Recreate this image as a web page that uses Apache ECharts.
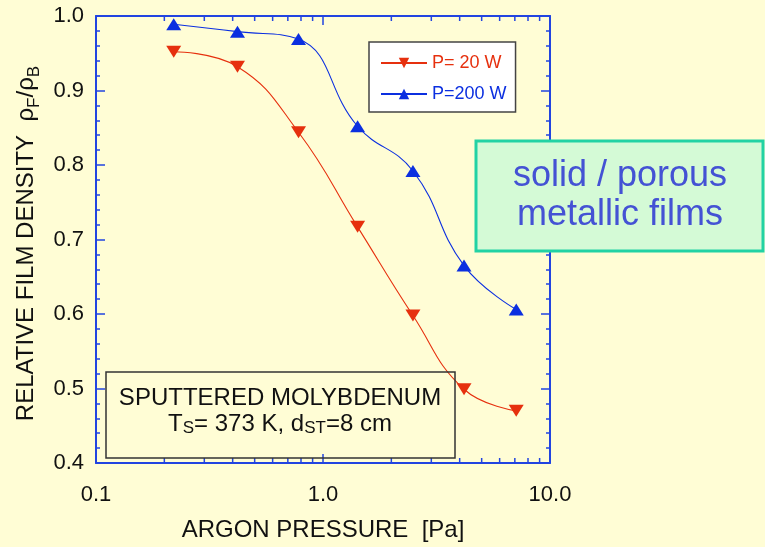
<!DOCTYPE html>
<html>
<head>
<meta charset="utf-8">
<script src="https://cdn.jsdelivr.net/npm/echarts@6/dist/echarts.min.js"></script>
<style>
  html, body { margin: 0; padding: 0; background: #FFFDD5; }
  #chart { width: 765px; height: 547px; }
</style>
</head>
<body>
<div id="chart"></div>
<script>
// Argon pressure [Pa] at which the films were sputtered
const pressure = [0.22, 0.42, 0.78, 1.42, 2.49, 4.18, 7.1];
// Relative film density rho_F / rho_B
const density20W = [0.952, 0.932, 0.844, 0.717, 0.598, 0.499, 0.470];
const density200W = [0.989, 0.979, 0.969, 0.852, 0.792, 0.665, 0.606];
const seriesNames = ['P= 20 W', 'P=200 W'];
// Minor ticks of the logarithmic pressure axis
const logMinorTicks = [0.2, 0.3, 0.4, 0.5, 0.6, 0.7, 0.8, 0.9, 2, 3, 4, 5, 6, 7, 8, 9];
const xRange = [0.1, 10];
const yRange = [0.4, 1.0];
const yStep = 0.1;

const RED = '#E6300E';
const BLUE = '#0B2FE0';
const AXIS = '#2244E0';
const FONT = '"Liberation Sans", Arial, sans-serif';

const pairs = (xs, ys) => xs.map((x, i) => [x, ys[i]]);

const chart = echarts.init(document.getElementById('chart'));

const axisLine = { lineStyle: { color: AXIS, width: 2 } };
const axisTick = { inside: true, length: 9, lineStyle: { color: AXIS, width: 1.5 } };
const minorTick = { show: true, splitNumber: 5, length: 4, lineStyle: { color: AXIS, width: 1.5 } };

chart.setOption({
  backgroundColor: '#FFFDD5',
  animation: false,
  textStyle: { fontFamily: FONT },
  grid: { left: 96, right: 215, top: 16, bottom: 81 },
  legend: {
    orient: 'vertical',
    left: 369,
    top: 42,
    backgroundColor: '#ffffff',
    borderColor: '#444444',
    borderWidth: 1.5,
    borderRadius: 0,
    padding: [12, 9, 9, 11],
    itemGap: 13,
    itemWidth: 46,
    itemHeight: 13,
    textStyle: { fontFamily: FONT, fontSize: 18 },
    data: [
      { name: seriesNames[0], textStyle: { color: RED } },
      { name: seriesNames[1], textStyle: { color: BLUE } }
    ]
  },
  xAxis: [
    {
      type: 'log', logBase: 10, min: xRange[0], max: xRange[1],
      position: 'bottom',
      axisLine, axisTick,
      splitLine: { show: false },
      axisLabel: {
        color: '#111', fontSize: 22, margin: 21, fontFamily: FONT,
        formatter: v => Number(v).toFixed(1)
      },
      name: 'ARGON PRESSURE  [Pa]',
      nameLocation: 'middle',
      nameGap: 55,
      nameTextStyle: { color: '#111', fontSize: 24, fontFamily: FONT }
    },
    {
      type: 'log', logBase: 10, min: xRange[0], max: xRange[1],
      position: 'top',
      axisLine, axisTick,
      splitLine: { show: false },
      axisLabel: { show: false }
    }
  ],
  yAxis: [
    {
      type: 'value', min: yRange[0], max: yRange[1], interval: yStep,
      position: 'left',
      axisLine, axisTick, minorTick,
      splitLine: { show: false },
      axisLabel: {
        color: '#111', fontSize: 22, margin: 12, fontFamily: FONT,
        padding: [7, 0, 0, 0],
        formatter: v => Number(v).toFixed(1)
      },
      name: '{n|RELATIVE FILM DENSITY  ρ}{s|F}{n|/ρ}{s|B}',
      nameLocation: 'middle',
      nameRotate: 90,
      nameGap: 47,
      nameTextStyle: {
        padding: [0, 8, 0, 0],
        rich: {
          n: { color: '#111', fontSize: 24, lineHeight: 32, fontFamily: FONT },
          s: { color: '#111', fontSize: 17, lineHeight: 16, verticalAlign: 'bottom', fontFamily: FONT }
        }
      }
    },
    {
      type: 'value', min: yRange[0], max: yRange[1], interval: yStep,
      position: 'right',
      axisLine, axisTick, minorTick,
      splitLine: { show: false },
      axisLabel: { show: false }
    }
  ],
  series: [
    {
      name: seriesNames[0],
      type: 'line',
      data: pairs(pressure, density20W),
      smooth: 0.45,
      symbol: 'path://M0,0 L20,0 L10,17 Z',
      symbolSize: [15, 12],
      color: RED,
      itemStyle: { color: RED },
      lineStyle: { color: RED, width: 1.1 }
    },
    {
      name: seriesNames[1],
      type: 'line',
      data: pairs(pressure, density200W),
      smooth: 0.45,
      symbol: 'path://M10,0 L20,17 L0,17 Z',
      symbolSize: [15, 12],
      color: BLUE,
      itemStyle: { color: BLUE },
      lineStyle: { color: BLUE, width: 1.1 }
    },
    {
      // minor ticks at 2..9 of every decade, bottom and top frame
      type: 'custom',
      silent: true,
      data: logMinorTicks.map(v => [v, yRange[0]]),
      encode: { x: 0, y: 1 },
      clip: false,
      z: 5,
      renderItem: (params, api) => {
        const v = api.value(0);
        const b = api.coord([v, yRange[0]]);
        const t = api.coord([v, yRange[1]]);
        const style = { stroke: AXIS, lineWidth: 1.5 };
        return {
          type: 'group',
          children: [
            { type: 'line', shape: { x1: b[0], y1: b[1], x2: b[0], y2: b[1] - 5 }, style },
            { type: 'line', shape: { x1: t[0], y1: t[1], x2: t[0], y2: t[1] + 5 }, style }
          ]
        };
      }
    }
  ],
  graphic: [
    {
      type: 'rect', x: 106, y: 372,
      shape: { width: 349, height: 86 },
      style: { fill: 'rgba(0,0,0,0)', stroke: '#333333', lineWidth: 1.5 },
      z: 10
    },
    {
      type: 'text', x: 280, y: 411,
      style: {
        text: '{a|SPUTTERED MOLYBDENUM}\n{a|T}{s|S}{a|= 373 K, d}{s|ST}{a|=8 cm}',
        align: 'center', verticalAlign: 'middle',
        rich: {
          a: { fontSize: 24, lineHeight: 26, fill: '#111', fontFamily: FONT },
          s: { fontSize: 17, lineHeight: 14, verticalAlign: 'bottom', fill: '#111', fontFamily: FONT }
        }
      },
      z: 10
    },
    {
      type: 'rect', x: 476, y: 141,
      shape: { width: 287, height: 110 },
      style: { fill: '#D4FAD6', stroke: '#22D2A4', lineWidth: 3 },
      z: 10
    },
    {
      type: 'text', x: 620, y: 196,
      style: {
        text: 'solid / porous\nmetallic films',
        align: 'center', verticalAlign: 'middle',
        fontSize: 36, lineHeight: 39, fill: '#4452D4', fontFamily: FONT
      },
      z: 11
    }
  ]
});
</script>
</body>
</html>
